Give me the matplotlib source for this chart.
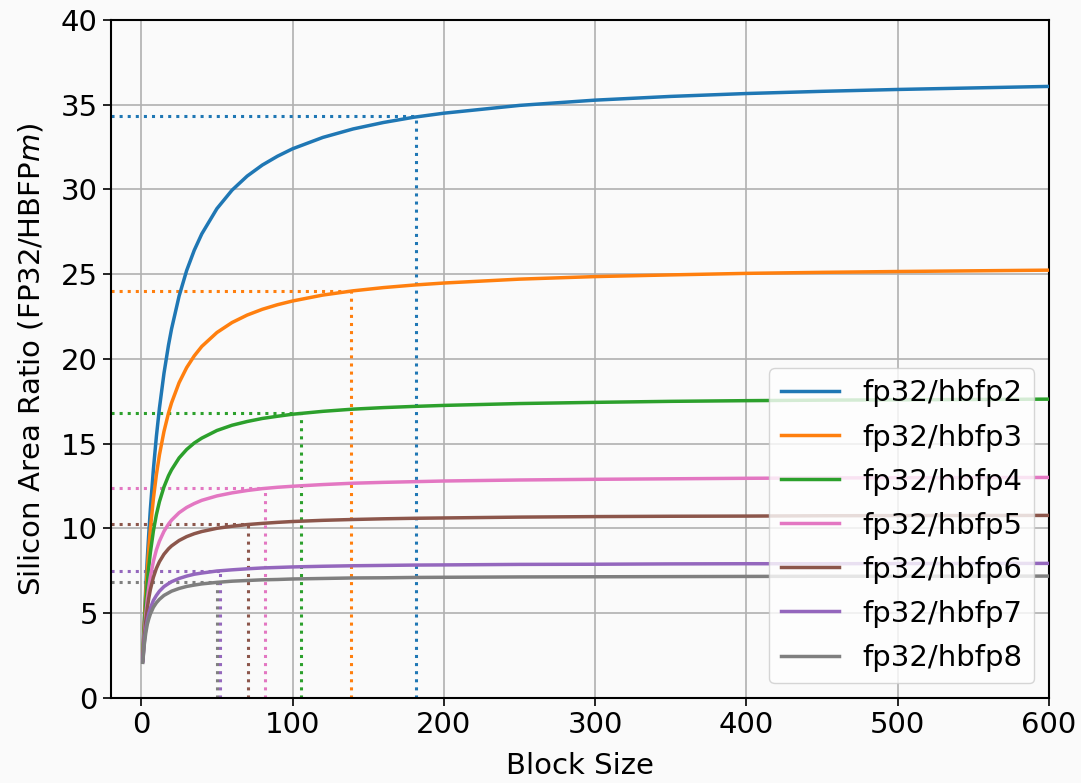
import matplotlib
matplotlib.use("Agg")
import matplotlib.pyplot as plt

block_size = [1, 2, 3, 4, 5, 6, 8, 10, 12, 15, 18, 20, 25, 30, 35, 40, 50, 60, 70,
              80, 90, 100, 120, 140, 160, 180, 200, 250, 300, 350, 400, 450, 500, 600]

labels = ["fp32/hbfp2", "fp32/hbfp3", "fp32/hbfp4", "fp32/hbfp5",
          "fp32/hbfp6", "fp32/hbfp7", "fp32/hbfp8"]

hbfp2 = [2.45, 4.64, 6.55, 8.25, 9.76, 11.13, 13.48, 15.44, 17.10, 19.15, 20.82, 21.77,
         23.71, 25.22, 26.41, 27.38, 28.87, 29.96, 30.79, 31.44, 31.96, 32.40, 33.07,
         33.57, 33.95, 34.26, 34.50, 34.96, 35.27, 35.49, 35.66, 35.79, 35.90, 36.08]
hbfp3 = [2.40, 4.47, 6.17, 7.62, 8.87, 9.95, 11.75, 13.18, 14.34, 15.72, 16.81, 17.41,
         18.60, 19.49, 20.18, 20.74, 21.56, 22.15, 22.59, 22.93, 23.20, 23.42, 23.77,
         24.02, 24.21, 24.36, 24.48, 24.71, 24.86, 24.96, 25.05, 25.11, 25.16, 25.24]
hbfp4 = [2.35, 4.21, 5.65, 6.81, 7.77, 8.57, 9.85, 10.82, 11.58, 12.45, 13.11, 13.46,
         14.16, 14.66, 15.04, 15.33, 15.78, 16.09, 16.31, 16.49, 16.62, 16.74, 16.91,
         17.04, 17.13, 17.20, 17.26, 17.37, 17.44, 17.50, 17.54, 17.57, 17.59, 17.63]
hbfp5 = [2.25, 3.74, 4.91, 5.82, 6.55, 7.14, 8.06, 8.74, 9.25, 9.83, 10.26, 10.49,
         10.93, 11.24, 11.47, 11.66, 11.92, 12.10, 12.24, 12.35, 12.43, 12.49, 12.59,
         12.67, 12.72, 12.76, 12.80, 12.86, 12.90, 12.93, 12.96, 12.98, 12.99, 13.01]
hbfp6 = [2.20, 3.51, 4.53, 5.30, 5.91, 6.39, 7.12, 7.65, 8.04, 8.48, 8.80, 8.97,
         9.29, 9.52, 9.69, 9.82, 10.01, 10.13, 10.23, 10.30, 10.36, 10.41, 10.48,
         10.53, 10.57, 10.60, 10.62, 10.67, 10.70, 10.72, 10.73, 10.75, 10.76, 10.77]
hbfp7 = [2.15, 3.30, 4.10, 4.60, 5.00, 5.30, 5.75, 6.05, 6.30, 6.57, 6.75, 6.86,
         7.05, 7.19, 7.30, 7.37, 7.49, 7.56, 7.62, 7.67, 7.70, 7.73, 7.77,
         7.80, 7.82, 7.84, 7.85, 7.88, 7.89, 7.91, 7.92, 7.92, 7.93, 7.94]
hbfp8 = [2.10, 3.15, 3.85, 4.35, 4.68, 4.95, 5.35, 5.62, 5.82, 6.05, 6.20, 6.30,
         6.46, 6.58, 6.66, 6.73, 6.82, 6.89, 6.93, 6.97, 6.99, 7.02, 7.05,
         7.08, 7.09, 7.11, 7.12, 7.14, 7.15, 7.16, 7.17, 7.18, 7.18, 7.19]

# marked points (dotted guide lines)
mark_x = [181.5, 138.6, 105.5, 81.7, 70.7, 52.0, 49.8]
mark_y = [34.32, 24.0, 16.79, 12.36, 10.24, 7.51, 6.82]

colors = ["#1f77b4", "#ff7f0e", "#2ca02c", "#e377c2", "#8c564b", "#9467bd", "#7f7f7f"]

series = [hbfp2, hbfp3, hbfp4, hbfp5, hbfp6, hbfp7, hbfp8]

fig, ax = plt.subplots(figsize=(10.81, 7.83), dpi=100)
fig.patch.set_facecolor("#fafafa")
ax.set_facecolor("#fafafa")
fig.subplots_adjust(left=0.1027, right=0.9704, top=0.9745, bottom=0.1086)

x_left = -20

for ys, lab, c in zip(series, labels, colors):
    ax.plot(block_size, ys, color=c, linewidth=2.5, label=lab, zorder=3)

for mx, my, c in zip(mark_x, mark_y, colors):
    ax.plot([x_left, mx], [my, my], linestyle=":", color=c, linewidth=2.2, zorder=2)
    ax.plot([mx, mx], [0, my], linestyle=":", color=c, linewidth=2.2, zorder=2)

ax.set_xlim(x_left, 600)
ax.set_ylim(0, 40)
ax.set_xticks(range(0, 601, 100))
ax.set_yticks(range(0, 41, 5))
ax.tick_params(labelsize=21, length=6, width=1.2)
ax.grid(True, color="#b0b0b0", linewidth=1.2)
ax.set_axisbelow(True)
for s in ax.spines.values():
    s.set_linewidth(1.5)

ax.set_xlabel("Block Size", fontsize=21, labelpad=9)
ax.set_ylabel("Silicon Area Ratio (FP32/HBFP$m$)", fontsize=21, labelpad=11)

ax.legend(loc="lower right", fontsize=21, handlelength=2.0, labelspacing=0.55)

fig.savefig("out.png", dpi=100, facecolor=fig.get_facecolor())
